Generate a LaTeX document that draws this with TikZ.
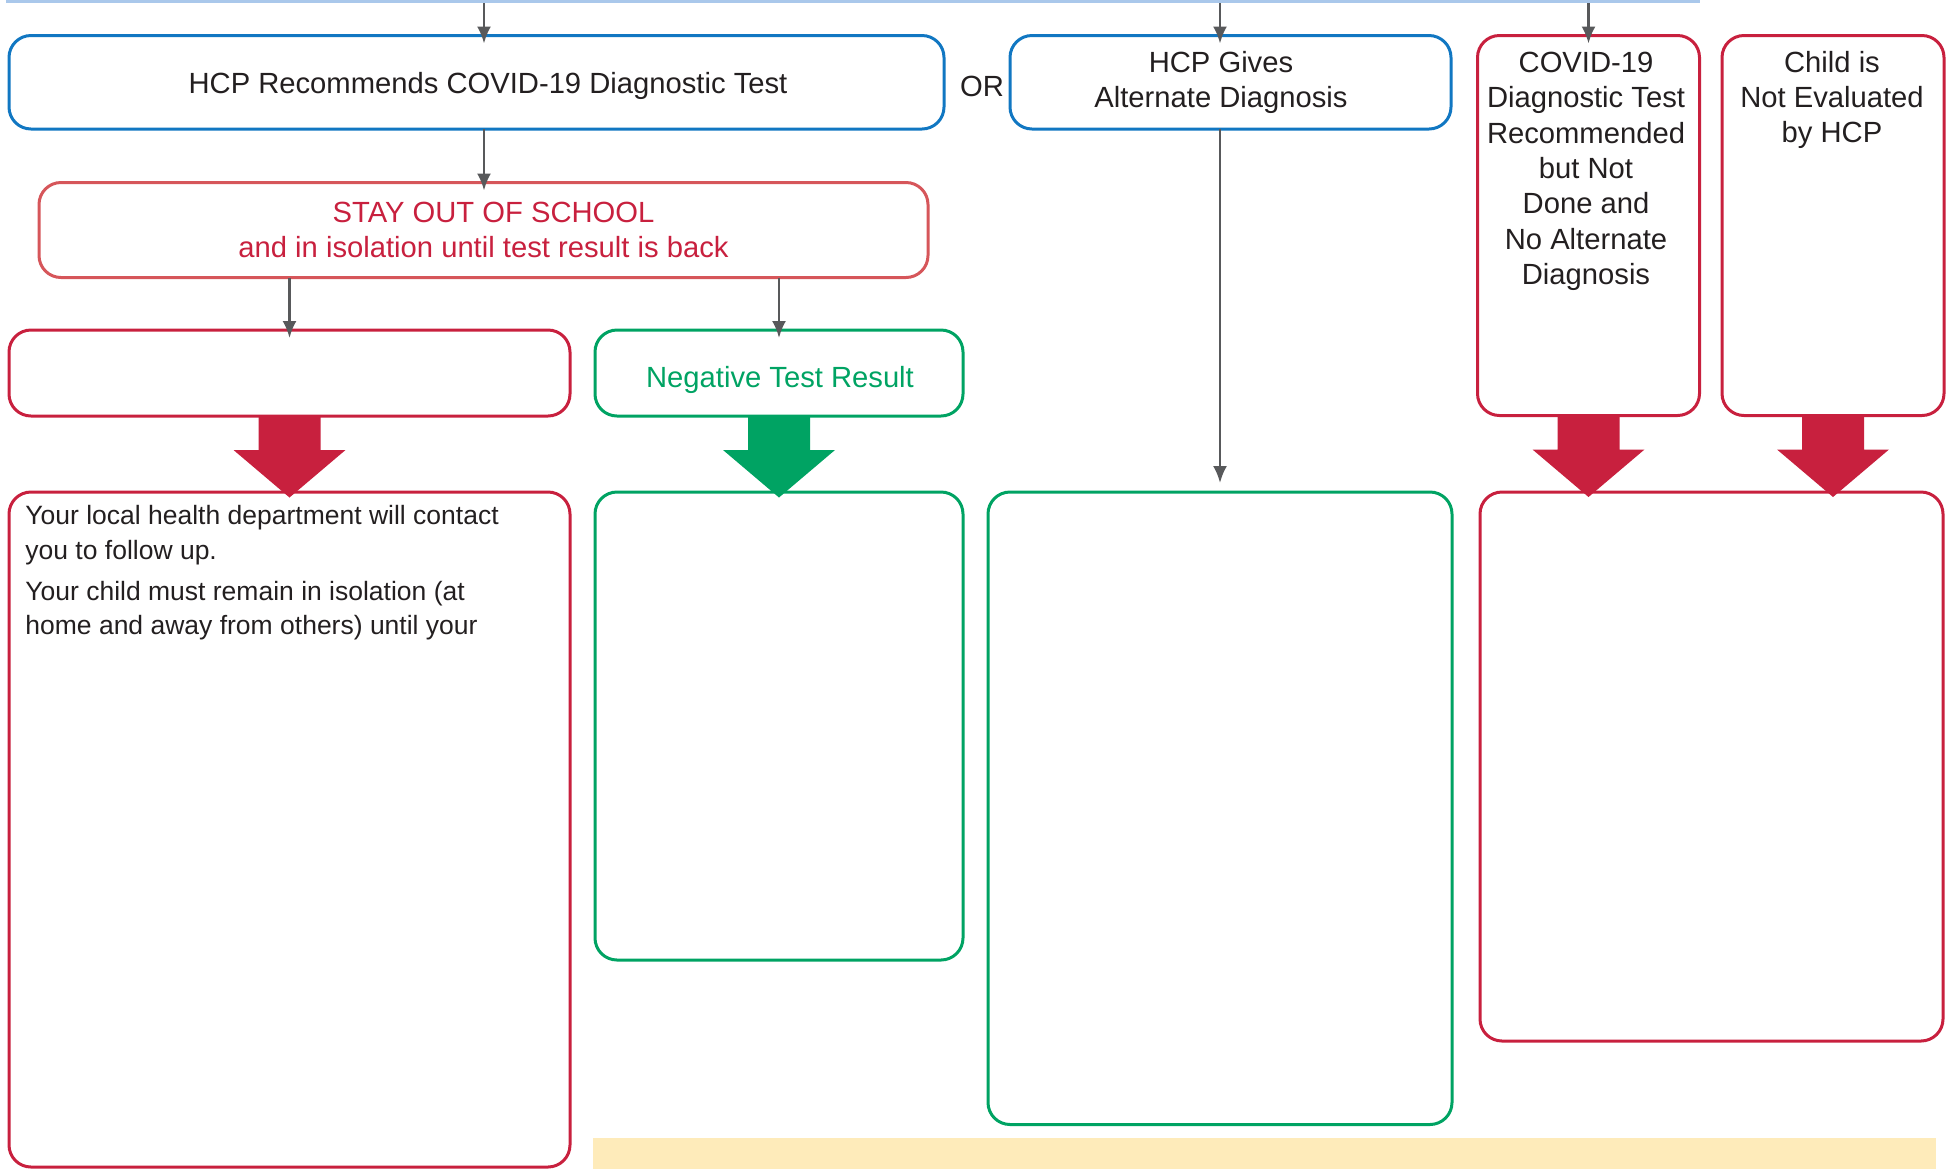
\documentclass[tikz,border=0pt]{standalone}
\usepackage{fontspec}
\setmainfont{Liberation Sans}
\usetikzlibrary{arrows.meta,calc}
\definecolor{cblue}{RGB}{17,119,194}
\definecolor{cred}{RGB}{200,32,62}
\definecolor{clred}{RGB}{214,86,90}
\definecolor{cgreen}{RGB}{0,163,99}
\definecolor{cgray}{RGB}{88,89,91}
\definecolor{ctop}{RGB}{170,200,235}
\definecolor{cyellow}{RGB}{254,235,186}
\definecolor{ctext}{RGB}{35,31,32}
\newcommand\mainf{\fontsize{14.6pt}{17.7pt}\selectfont}
\newcommand\smallf{\fontsize{13.25pt}{17.25pt}\selectfont}
\newcommand\bigarrow[2]{\fill[#2] ($(#1.south)+(-31,0)$) -- ++(0,34) -- ++(-25,0) -- ++(56,47.5) -- ++(56,-47.5) -- ++(-25,0) -- ++(0,-34) -- cycle;}
\begin{document}
\begin{tikzpicture}[x=0.5pt,y=-0.5pt,
  box/.style={draw,line width=1.5pt,rounded corners=11pt,inner sep=0pt,outer sep=0pt,align=center,font=\mainf,text=ctext},
  bluebox/.style={box,draw=cblue},
  redbox/.style={box,draw=cred},
  lredbox/.style={box,draw=clred},
  greenbox/.style={box,draw=cgreen},
  lbl/.style={inner sep=0pt,align=center,font=\mainf,text=ctext},
  garrow/.style={draw=cgray,line width=1.25pt,-{Latex[length=8.5pt,width=7pt]}}]
\useasboundingbox (0,0) rectangle (1955,1169);
\fill[ctop] (6,0) rectangle (1700,3);
\fill[cyellow] (592.5,1138) rectangle (1936,1169);
\coordinate (t1) at (484,3);
\coordinate (t2) at (1220,3);
\coordinate (t3) at (1588.5,3);
% boxes
\node[bluebox,minimum width=467.5pt,minimum height=46.75pt] (b1) at (476.5,82.25) {};
\node[bluebox,minimum width=220.5pt,minimum height=46.75pt] (b9) at (1230.5,82.25) {};
\node[lredbox,minimum width=444.5pt,minimum height=47.5pt,text=cred] (b2) at (483.5,230) {\hspace*{10pt}STAY OUT OF SCHOOL\\and in isolation until test result is back};
\node[redbox,minimum width=280.5pt,minimum height=43pt] (b3) at (289.5,373) {};
\node[greenbox,minimum width=184pt,minimum height=43pt] (b4) at (779,373) {};
\node[redbox,minimum width=280.5pt,minimum height=337.5pt] (b5) at (289.5,829.5) {};
\node[greenbox,minimum width=184pt,minimum height=234pt] (b6) at (779,726) {};
\node[greenbox,minimum width=232pt,minimum height=316.25pt] (b7) at (1220,808.25) {};
\node[redbox,minimum width=231.5pt,minimum height=274.5pt] (b8) at (1711.5,766.5) {};
\node[redbox,minimum width=111pt,minimum height=190pt] (b10) at (1588.5,225.5) {};
\node[redbox,minimum width=111pt,minimum height=190pt] (b11) at (1833,225.5) {};
% labels
\node[lbl,anchor=base] (l1) at (488,93) {HCP Recommends COVID-19 Diagnostic Test};
\node[lbl,anchor=base,text=cgreen] (l4) at (780,387.5) {Negative Test Result};
\node[lbl] (or) at (982,86.5) {OR};
\node[lbl,anchor=north] (l9) at (1221,50.5) {HCP Gives\\Alternate Diagnosis};
\node[lbl,anchor=north] (l10) at (1586,51.5) {COVID-19\\Diagnostic Test\\Recommended\\but Not\\Done and\\No Alternate\\Diagnosis};
\node[lbl,anchor=north] (l11) at (1832,50.5) {Child is\\Not Evaluated\\by HCP};
\node[inner sep=0pt,anchor=north west,align=left,font=\smallf,text=ctext] (l5) at (25,505) {Your local health department will contact\\you to follow up.\\[3.25pt]Your child must remain in isolation (at\\home and away from others) until your};
% connectors
\draw[garrow] (t1) -- ($(b1.north -| t1)+(0,8)$);
\draw[garrow] (t2) -- ($(b9.north -| t2)+(0,8)$);
\draw[garrow] (t3) -- ($(b10.north)+(0,8)$);
\draw[garrow] (b1.south -| t1) -- ($(b2.north -| t1)+(0,8)$);
\draw[garrow] (b2.south -| b3.north) -- ($(b3.north)+(0,8)$);
\draw[garrow] (b2.south -| b4.north) -- ($(b4.north)+(0,8)$);
\draw[garrow] (b9.south -| b7.north) -- ($(b7.north)+(0,-9)$);
% block arrows
\bigarrow{b3}{cred}
\bigarrow{b4}{cgreen}
\bigarrow{b10}{cred}
\bigarrow{b11}{cred}
\end{tikzpicture}
\end{document}
